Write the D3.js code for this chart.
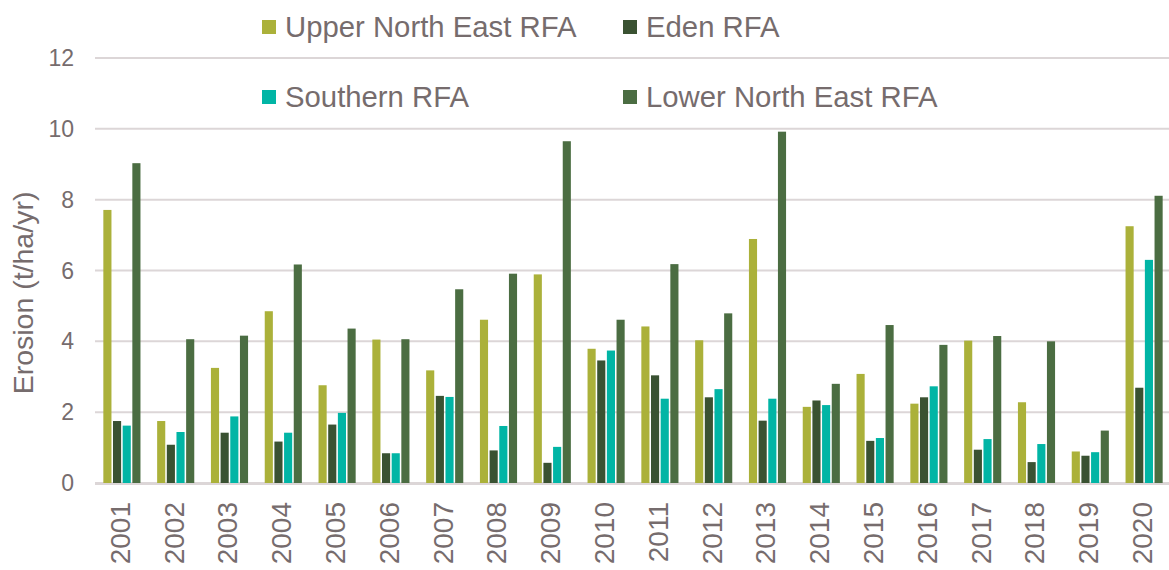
<!DOCTYPE html>
<html>
<head>
<meta charset="utf-8">
<script src="https://cdn.jsdelivr.net/npm/d3@7"></script>
<style>
  html, body { margin: 0; padding: 0; background: #fff; }
  svg { display: block; font-family: Arial, "Liberation Sans", sans-serif; }
</style>
</head>
<body>
<svg id="chart" width="1169" height="570"></svg>
<script>
// Erosion by RFA region, 2001–2020
const years = d3.range(2001, 2021).map(String);
const seriesNames = ["Upper North East RFA", "Eden RFA", "Southern RFA", "Lower North East RFA"];
const seriesColors = ["#abb13a", "#3a5232", "#01b5a5", "#4b6d42"];

const upperNorthEast = [7.71, 1.75, 3.25, 4.85, 2.76, 4.05, 3.18, 4.61, 5.89, 3.79,
                        4.42, 4.03, 6.89, 2.15, 3.08, 2.24, 4.02, 2.28, 0.89, 7.25];
const eden           = [1.75, 1.08, 1.42, 1.17, 1.65, 0.84, 2.46, 0.92, 0.57, 3.46,
                        3.04, 2.42, 1.76, 2.33, 1.19, 2.42, 0.94, 0.59, 0.77, 2.69];
const southern       = [1.62, 1.44, 1.88, 1.42, 1.98, 0.84, 2.43, 1.61, 1.02, 3.74,
                        2.38, 2.65, 2.38, 2.20, 1.27, 2.73, 1.24, 1.10, 0.87, 6.30];
const lowerNorthEast = [9.03, 4.06, 4.16, 6.17, 4.36, 4.06, 5.47, 5.91, 9.65, 4.61,
                        6.18, 4.79, 9.92, 2.80, 4.46, 3.90, 4.15, 4.00, 1.48, 8.11];
const yTicks = [0, 2, 4, 6, 8, 10, 12];

const seriesValues = [upperNorthEast, eden, southern, lowerNorthEast];
const textColor = "#766c6d";
const gridColor = "#dcd6d7";

const svg = d3.select("#chart");
const plotLeft = 95, plotRight = 1171, plotTop = 58, plotBottom = 483;

const x0 = d3.scaleBand().domain(years).range([plotLeft, plotRight]);
const x1 = d3.scaleBand().domain(d3.range(4))
  .range([x0.bandwidth() * 0.155, x0.bandwidth() * 0.845])
  .paddingInner(0.16);
const y = d3.scaleLinear().domain([0, 12]).range([plotBottom, plotTop]);

// gridlines
svg.append("g")
  .selectAll("line")
  .data(yTicks)
  .join("line")
  .attr("x1", plotLeft).attr("x2", 1169)
  .attr("y1", d => y(d)).attr("y2", d => y(d))
  .attr("stroke", gridColor)
  .attr("stroke-width", 2);

// y tick labels
svg.append("g")
  .selectAll("text")
  .data(yTicks)
  .join("text")
  .attr("x", 74)
  .attr("y", d => y(d))
  .attr("dy", "0.35em")
  .attr("text-anchor", "end")
  .attr("fill", textColor)
  .attr("font-size", 23)
  .text(d => d);

// y title
svg.append("text")
  .attr("transform", "translate(33,293) rotate(-90)")
  .attr("text-anchor", "middle")
  .attr("fill", textColor)
  .attr("font-size", 28.5)
  .text("Erosion (t/ha/yr)");

// bars
const groups = svg.append("g")
  .selectAll("g")
  .data(years)
  .join("g")
  .attr("transform", d => `translate(${x0(d)},0)`);

groups.selectAll("rect")
  .data((yr, i) => seriesValues.map((vals, s) => ({ s, v: vals[i] })))
  .join("rect")
  .attr("x", d => x1(d.s))
  .attr("width", x1.bandwidth())
  .attr("y", d => y(d.v))
  .attr("height", d => y(0) - y(d.v))
  .attr("fill", d => seriesColors[d.s]);

// baseline
svg.append("line")
  .attr("x1", plotLeft).attr("x2", 1169)
  .attr("y1", y(0) + 1).attr("y2", y(0) + 1)
  .attr("stroke", gridColor)
  .attr("stroke-width", 2);

// x labels, rotated
svg.append("g")
  .selectAll("text")
  .data(years)
  .join("text")
  .attr("transform", d => `translate(${x0(d) + x0.bandwidth() / 2 - 2},502) rotate(-90)`)
  .attr("dy", "0.35em")
  .attr("text-anchor", "end")
  .attr("fill", textColor)
  .attr("font-size", 28)
  .text(d => d);

// legend, two rows x two columns
const legendPos = [[262, 20], [623, 20], [262, 90], [623, 90]];
const legendOrder = [0, 1, 2, 3];
const legend = svg.append("g")
  .selectAll("g")
  .data(legendOrder)
  .join("g")
  .attr("transform", d => `translate(${legendPos[d][0]},${legendPos[d][1]})`);

legend.append("rect")
  .attr("width", 14).attr("height", 14)
  .attr("fill", d => seriesColors[d]);

legend.append("text")
  .attr("x", 23)
  .attr("y", 17)
  .attr("fill", textColor)
  .attr("font-size", 29.3)
  .text(d => seriesNames[d]);
</script>
</body>
</html>
